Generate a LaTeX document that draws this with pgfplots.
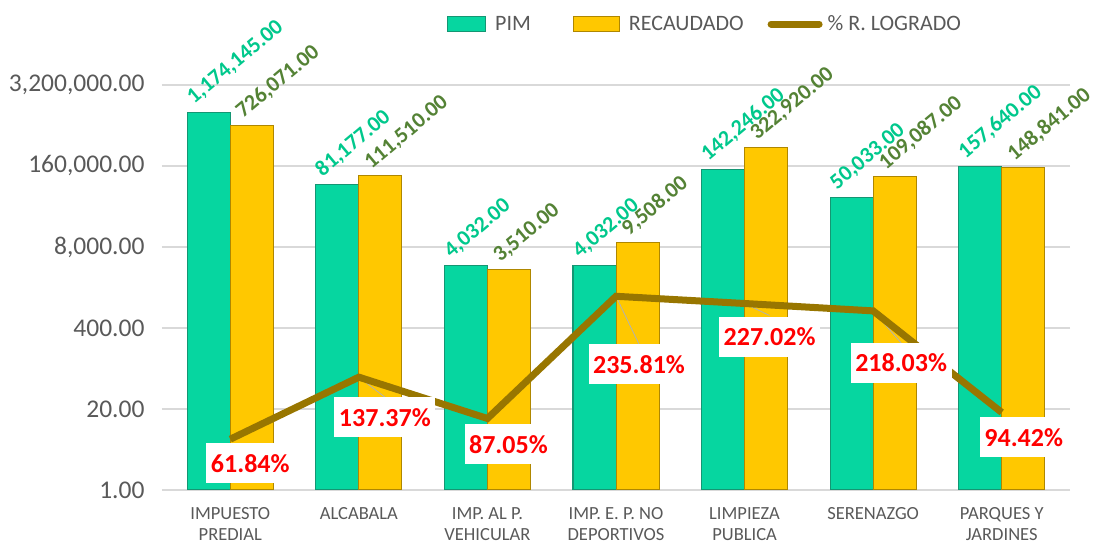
\documentclass[border=0pt]{standalone}
\usepackage{pgfplots}
\pgfplotsset{compat=1.18}
\usepackage{pgfplotstable}
\usepackage{fontspec}
\setmainfont{Carlito}
\pgfplotsset{/pgf/number format/assume math mode=true}
\definecolor{pim}{RGB}{6,214,160}
\definecolor{pimdark}{RGB}{20,150,115}
\definecolor{rec}{RGB}{255,200,0}
\definecolor{recdark}{RGB}{175,135,0}
\definecolor{logr}{RGB}{152,118,0}
\definecolor{pimlab}{RGB}{0,200,140}
\definecolor{reclab}{RGB}{84,130,53}
\definecolor{txt}{RGB}{89,89,89}
\definecolor{gridc}{RGB}{217,217,217}
\pgfplotstableread{
x pim rec pct dx dy u v
0 1174145 726071 61.84 20 -24 0 0
1 81177 111510 137.37 26 -40 0.202 -24.3
2 4032 3510 87.05 21 -26 0 0
3 4032 9508 235.81 23 -68 0.179 -58.4
4 142246 322920 227.02 25 -33 0.194 -14.6
5 50033 109087 218.03 28 -52 0.218 -39
6 157640 148841 94.42 22 -25 0 0
}\data
\begin{document}
\begin{tikzpicture}
\useasboundingbox (0pt,0pt) rectangle (1104pt,544pt);
\begin{axis}[
  at={(166pt,54pt)}, anchor=south west, scale only axis,
  width=900pt, height=405pt,
  ymode=log, ymin=1, ymax=3200000,
  xmin=-0.5, xmax=6.5,
  ybar=0pt, bar width=43pt,
  clip=false,
  axis line style={draw=none},
  ymajorgrids, grid style={gridc, line width=1.5pt},
  ytick={1,20,400,8000,160000,3200000},
  yticklabels={1.00,20.00,400.00,{8,000.00},{160,000.00},{3,200,000.00}},
  tick align=outside, major tick length=4pt,
  ytick style={gridc, line width=1.5pt},
  xtick={0,...,6}, xtick style={draw=none},
  xticklabels={{IMPUESTO\\PREDIAL},{ALCABALA},{IMP. AL P.\\VEHICULAR},{IMP. E. P. NO\\DEPORTIVOS},{LIMPIEZA\\PUBLICA},{SERENAZGO},{PARQUES Y\\JARDINES}},
  xticklabel style={align=center, font=\fontsize{18.5}{21}\selectfont, text=txt, yshift=-10pt},
  yticklabel style={font=\fontsize{25.5}{28}\selectfont, text=txt, xshift=-14pt},
  legend columns=3,
  legend style={at={(0.3122,1.1506)}, anchor=west, draw=none, fill=none, inner sep=0pt,
    font=\fontsize{22}{26}\selectfont, text=txt,
    /tikz/column 1/.append style={column sep=7pt},
    /tikz/column 2/.append style={column sep=40pt},
    /tikz/column 3/.append style={column sep=7pt},
    /tikz/column 4/.append style={column sep=22pt},
    /tikz/column 5/.append style={column sep=3pt}},
  legend cell align=left,
]
\addplot[fill=pim, draw=pimdark, line width=1pt,
  legend image code/.code={\draw[fill=pim, draw=pimdark, line width=1pt] (0pt,-7pt) rectangle (38pt,8pt);},
  point meta=explicit,
  nodes near coords={\pgfmathprintnumber[fixed, fixed zerofill, precision=2, 1000 sep={,}]{\pgfplotspointmeta}},
  every node near coord/.append style={xshift=-15pt, yshift=7pt, rotate=40, anchor=base west, inner sep=0pt,
    font=\fontsize{22}{24}\selectfont\bfseries, text=pimlab},
] table[x=x, y=pim, meta=pim]{\data};
\addlegendentry{PIM}
\addplot[fill=rec, draw=recdark, line width=1pt,
  legend image code/.code={\draw[fill=rec, draw=recdark, line width=1pt] (0pt,-7pt) rectangle (46pt,8pt);},
  point meta=explicit,
  nodes near coords={\pgfmathprintnumber[fixed, fixed zerofill, precision=2, 1000 sep={,}]{\pgfplotspointmeta}},
  every node near coord/.append style={xshift=-9pt, yshift=6pt, rotate=40, anchor=base west, inner sep=0pt,
    font=\fontsize{22}{24}\selectfont\bfseries, text=reclab},
] table[x=x, y=rec, meta=rec]{\data};
\addlegendentry{RECAUDADO}
\addlegendimage{legend image code/.code={\draw[logr, line width=7pt, line cap=round] (3.5pt,0pt) -- (51.5pt,0pt);}}
\addlegendentry{\% R. LOGRADO}
\end{axis}
\begin{axis}[
  at={(166pt,54pt)}, anchor=south west, scale only axis,
  width=900pt, height=405pt,
  ymin=0, ymax=493, xmin=-0.5, xmax=6.5,
  hide axis, clip=false,
]
\addplot[gray!60, line width=0.8pt, quiver={u=\thisrow{u}, v=\thisrow{v}}] table[x=x, y=pct]{\data};
\addplot[logr, line width=7pt, mark=none,
  point meta=explicit,
  visualization depends on={\thisrow{dx} \as \dx},
  visualization depends on={\thisrow{dy} \as \dy},
  nodes near coords={\pgfmathprintnumber[fixed, fixed zerofill, precision=2]{\pgfplotspointmeta}\%},
  every node near coord/.append style={xshift=\dx pt, yshift=\dy pt, anchor=center, fill=white,
    text=red, font=\fontsize{26}{30}\selectfont\bfseries, inner xsep=4.5pt, inner ysep=0pt, minimum height=40pt},
] table[x=x, y=pct, meta=pct]{\data};
\end{axis}
\end{tikzpicture}
\end{document}
